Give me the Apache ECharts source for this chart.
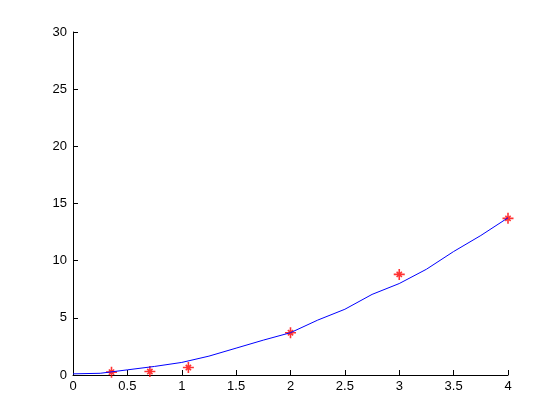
<!DOCTYPE html>
<html>
<head>
<meta charset="utf-8">
<script src="https://cdn.jsdelivr.net/npm/echarts@6/dist/echarts.min.js"></script>
<style>
  html, body { margin: 0; padding: 0; background: #fff; }
  #chart { width: 560px; height: 420px; }
</style>
</head>
<body>
<div id="chart"></div>
<script>
// fitted curve (blue line)
const curveX = [0, 0.25, 0.5, 0.75, 1, 1.25, 1.5, 1.75, 2, 2.25, 2.5, 2.75, 3, 3.25, 3.5, 3.75, 4];
const curveY = [0.1, 0.15, 0.45, 0.75, 1.1, 1.65, 2.35, 3.05, 3.7, 4.8, 5.75, 7.05, 8.0, 9.25, 10.8, 12.2, 13.75];

// measured points (red stars)
const pointX = [0.354, 0.707, 1.061, 2, 3, 4];
const pointY = [0.25, 0.3, 0.65, 3.7, 8.8, 13.7];

const FONT = 'Liberation Sans, Arial, sans-serif';
// MATLAB-like '*' marker: long plus arms, short diagonals
const STAR = 'path://M0,5L10,5M5,0L5,10M2.6,2.6L7.4,7.4M7.4,2.6L2.6,7.4';

const chart = echarts.init(document.getElementById('chart'), null, { renderer: 'canvas' });

const axisCommon = {
  axisLine: { show: true, onZero: false, lineStyle: { color: '#000', width: 1 } },
  axisTick: { show: true, inside: true, length: 5, lineStyle: { color: '#000' } },
  axisLabel: { color: '#000', fontFamily: FONT, fontSize: 13 },
  splitLine: { show: false },
};

chart.setOption({
  animation: false,
  backgroundColor: '#fff',
  grid: { left: 73, right: 52, top: 32, bottom: 45 },
  xAxis: {
    type: 'value',
    min: 0,
    max: 4,
    interval: 0.5,
    ...axisCommon,
    axisLabel: { ...axisCommon.axisLabel, margin: 5 },
  },
  yAxis: {
    type: 'value',
    min: 0,
    max: 30,
    interval: 5,
    ...axisCommon,
    axisLabel: { ...axisCommon.axisLabel, margin: 6 },
  },
  series: [
    {
      type: 'line',
      data: curveX.map((x, i) => [x, curveY[i]]),
      showSymbol: false,
      lineStyle: { color: '#0000ff', width: 1 },
    },
    {
      type: 'scatter',
      data: pointX.map((x, i) => [x, pointY[i]]),
      symbol: STAR,
      symbolSize: 11,
      itemStyle: { color: 'rgba(0,0,0,0)', borderColor: '#ff0000', borderWidth: 1.6 },
    },
  ],
});
</script>
</body>
</html>
